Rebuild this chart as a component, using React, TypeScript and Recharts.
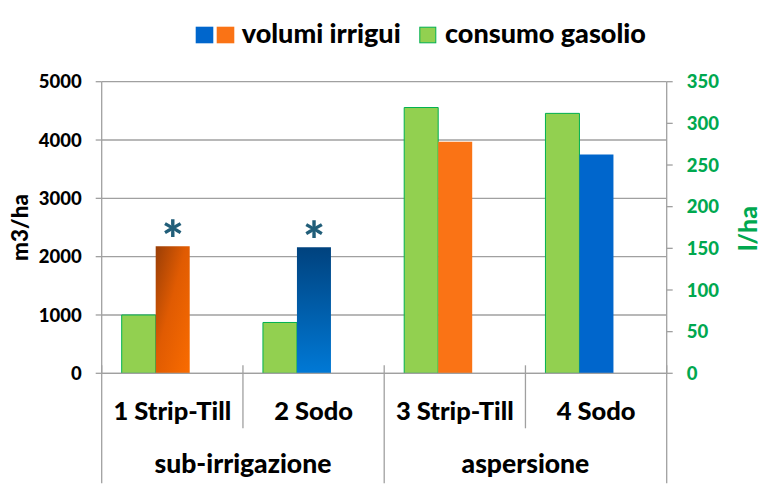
import React from "react";
import {
  BarChart,
  Bar,
  XAxis,
  YAxis,
  CartesianGrid,
  Cell,
  LabelList,
  Customized,
} from "recharts";

const categories = ["1 Strip-Till", "2 Sodo", "3 Strip-Till", "4 Sodo"];
const groups = ["sub-irrigazione", "aspersione"];
const volumiIrrigui = [2180, 2160, 3970, 3750];
const consumoGasolio = [70, 61, 319, 312];
const marks = ["*", "*", "", ""];
const leftTicks = [0, 1000, 2000, 3000, 4000, 5000];
const rightTicks = [0, 50, 100, 150, 200, 250, 300, 350];
const volumiFills = ["url(#gradOrange)", "url(#gradBlue)", "#FA7315", "#0066CC"];

const data = categories.map((c, i) => ({
  name: c,
  volumi: volumiIrrigui[i],
  gasolio: consumoGasolio[i],
  mark: marks[i],
}));

const FONT = "Lato, 'Open Sans', sans-serif";
const W = 900;
const AXIS_GRAY = "#A0A0A0";
const GREEN_TEXT = "#00A84F";

const CategoryTick = (props: any) => {
  const { x, y, payload, index, width } = props;
  const half =
    payload && typeof payload.offset === "number" && payload.offset > 0
      ? payload.offset
      : width / (2 * categories.length);
  const left = x - half;
  const right = x + half;
  const long = index % 2 === 0;
  return (
    <g>
      <line x1={left} x2={left} y1={y - 8} y2={y + (long ? 110 : 55)} stroke={AXIS_GRAY} strokeWidth={1.3} />
      {index === categories.length - 1 && (
        <line x1={right} x2={right} y1={y - 8} y2={y + 110} stroke={AXIS_GRAY} strokeWidth={1.3} />
      )}
      <text x={x} y={y + 47} textAnchor="middle" fontFamily={FONT} fontWeight={W} fontSize={25.5} fill="#000">
        {payload.value}
      </text>
      {index % 2 === 1 && (
        <text x={left} y={y + 100} textAnchor="middle" fontFamily={FONT} fontWeight={W} fontSize={26.5} fill="#000">
          {groups[(index - 1) / 2]}
        </text>
      )}
    </g>
  );
};

const AsteriskLabel = (props: any) => {
  const { x, y, width, value } = props;
  if (!value) return null;
  return (
    <text x={x + width / 2} y={y + 12} textAnchor="middle" fontFamily={FONT} fontWeight={W} fontSize={52} fill="#215E79">
      {value}
    </text>
  );
};

const LeftTitle = (props: any) => {
  const vb = props.viewBox;
  const cx = vb.x + 19;
  const cy = vb.y + vb.height / 2;
  return (
    <text x={cx} y={cy} transform={`rotate(-90 ${cx} ${cy})`} textAnchor="middle" dominantBaseline="central" fontFamily={FONT} fontWeight={W} fontSize={22.5} fill="#000">
      m3/ha
    </text>
  );
};

const RightTitle = (props: any) => {
  const vb = props.viewBox;
  const cx = vb.x + 80;
  const cy = vb.y + vb.height / 2 + 1;
  return (
    <text x={cx} y={cy} transform={`rotate(-90 ${cx} ${cy})`} textAnchor="middle" dominantBaseline="central" fontFamily={FONT} fontWeight={W} fontSize={25} fill={GREEN_TEXT}>
      l/ha
    </text>
  );
};

const LegendBlock = () => (
  <g>
    <rect x={195.7} y={26.7} width={17.6} height={16.6} fill="#0066CC" />
    <rect x={216.7} y={26.7} width={17.6} height={16.6} fill="#FA7315" />
    <text x={241.7} y={43} fontFamily={FONT} fontWeight={W} fontSize={27} fill="#000">
      volumi irrigui
    </text>
    <rect x={419.8} y={27.2} width={16} height={15.6} fill="#92D050" stroke="#00B050" strokeWidth={1} />
    <text x={445} y={43} fontFamily={FONT} fontWeight={W} fontSize={27} fill="#000">
      consumo gasolio
    </text>
  </g>
);

export default function App() {
  return (
    <div style={{ position: "absolute", left: 0, top: 0, width: 763, height: 497, background: "#fff" }}>
      <BarChart
        width={763}
        height={497}
        data={data}
        margin={{ top: 81.7, right: 0, bottom: 13.7, left: 0 }}
        barCategoryGap={20}
        barGap={0}
      >
        <defs>
          <linearGradient id="gradOrange" x1="0" y1="0" x2="1" y2="1">
            <stop offset="0" stopColor="#9A3E06" />
            <stop offset="0.45" stopColor="#E05B02" />
            <stop offset="1" stopColor="#FA6C00" />
          </linearGradient>
          <linearGradient id="gradBlue" x1="0" y1="0" x2="0" y2="1">
            <stop offset="0" stopColor="#00427E" />
            <stop offset="1" stopColor="#0079D6" />
          </linearGradient>
        </defs>
        <CartesianGrid yAxisId="left" vertical={false} stroke={AXIS_GRAY} strokeWidth={1.3} />
        <XAxis
          dataKey="name"
          height={110}
          tick={<CategoryTick />}
          tickLine={false}
          tickSize={0}
          tickMargin={0}
          interval={0}
          stroke={AXIS_GRAY}
          strokeWidth={1.3}
        />
        <YAxis
          yAxisId="left"
          orientation="left"
          width={101.7}
          domain={[0, 5000]}
          ticks={leftTicks}
          interval={0}
          tickSize={6}
          tickMargin={14}
          stroke={AXIS_GRAY}
          strokeWidth={1.3}
          tick={{ fill: "#000", fontFamily: FONT, fontWeight: W, fontSize: 18.5 }}
          label={<LeftTitle />}
        />
        <YAxis
          yAxisId="right"
          orientation="right"
          width={96.3}
          domain={[0, 350]}
          ticks={rightTicks}
          interval={0}
          tickSize={6}
          tickMargin={14}
          stroke={AXIS_GRAY}
          strokeWidth={1.3}
          tick={{ fill: GREEN_TEXT, fontFamily: FONT, fontWeight: W, fontSize: 18.5 }}
          label={<RightTitle />}
        />
        <Bar dataKey="gasolio" yAxisId="right" fill="#92D050" stroke="#00B050" strokeWidth={1} isAnimationActive={false} />
        <Bar dataKey="volumi" yAxisId="left" isAnimationActive={false}>
          {data.map((d, i) => (
            <Cell key={d.name} fill={volumiFills[i]} />
          ))}
          <LabelList dataKey="mark" content={<AsteriskLabel />} />
        </Bar>
        <Bar dataKey="blank" yAxisId="left" fill="none" isAnimationActive={false} />
        <Customized component={<LegendBlock />} />
      </BarChart>
    </div>
  );
}
